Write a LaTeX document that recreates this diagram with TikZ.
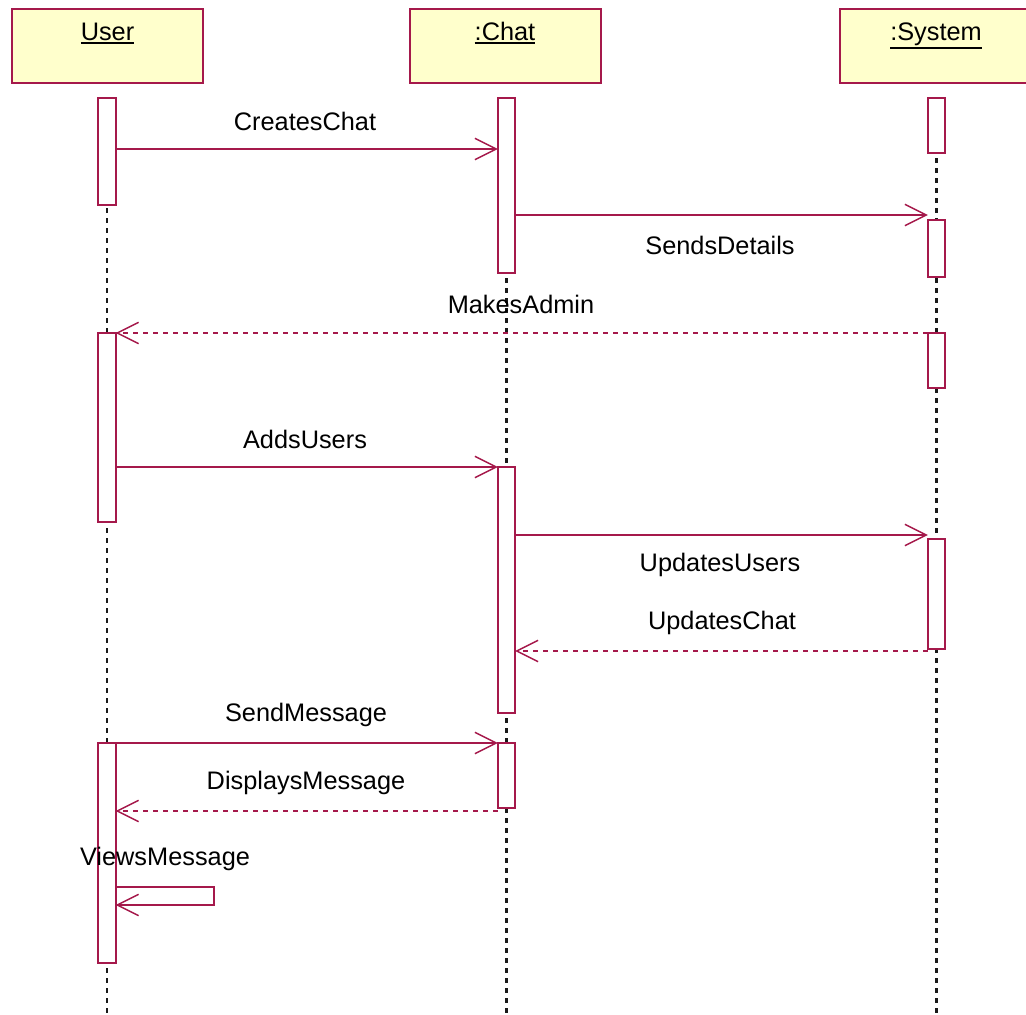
\documentclass[tikz,border=0pt]{standalone}
\usepackage{fontspec}
\setmainfont{Liberation Sans}
\usetikzlibrary{arrows.meta}
\definecolor{umlred}{RGB}{165,25,75}
\definecolor{umlfill}{RGB}{255,255,204}
\newcommand\ulname[1]{\leavevmode\vtop{\hbox{#1}\kern1.4pt\hrule height1.3pt}}
\begin{document}
\begin{tikzpicture}[x=0.75pt,y=-0.75pt,
  every node/.style={font=\fontsize{19}{22}\selectfont, inner sep=0pt, outer sep=0pt},
  header/.style={draw=umlred, fill=umlfill, line width=1.5pt,
    minimum width=143.25pt, minimum height=55.5pt},
  actbar/.style={draw=umlred, fill=white, line width=1.5pt, minimum width=13pt},
  lifeline/.style={black!90, line width=1.6pt, dash pattern=on 3.5pt off 4pt},
  msg/.style={umlred, line width=1.5pt,
    -{Straight Barb[length=16pt,width=16pt,line width=1.1pt]}},
  reply/.style={msg, dash pattern=on 3.75pt off 3.75pt},
  lbl/.style={text=black}
]
\useasboundingbox (0,0) rectangle (1026,1015);
\clip (0,0) rectangle (1026,1015);

% object headers
\node[header] (user) at (107.5,46) {};
\node[header] (chat) at (505,46) {};
\node[header] (sys)  at (935,46) {};
\node[lbl, anchor=base] (userlbl) at (107.5,40) {\ulname{User}};
\node[lbl, anchor=base] (chatlbl) at (505,40) {\ulname{:Chat}};
\node[lbl, anchor=base] (syslbl)  at (936,40) {\ulname{:System}};

% lifelines
\coordinate (uend) at (107,1015);
\coordinate (cend) at (506.5,1015);
\coordinate (send) at (936.5,1015);
\draw[lifeline] (107,98) -- (uend);
\draw[lifeline] (506.5,98) -- (cend);
\draw[lifeline] (936.5,98) -- (send);

% activation bars
\node[actbar, minimum height=80.25pt]  (u1) at (107,151.5) {};
\node[actbar, minimum height=141.75pt] (u2) at (107,427.5) {};
\node[actbar, minimum height=165pt]    (u3) at (107,853) {};
\node[actbar, minimum height=131.25pt] (c1) at (506.5,185.5) {};
\node[actbar, minimum height=184.5pt]  (c2) at (506.5,590) {};
\node[actbar, minimum height=48.75pt]  (c3) at (506.5,775.5) {};
\node[actbar, minimum height=41.25pt]  (s1) at (936.5,125.5) {};
\node[actbar, minimum height=42.75pt]  (s2) at (936.5,248.5) {};
\node[actbar, minimum height=41.25pt]  (s3) at (936.5,360.5) {};
\node[actbar, minimum height=82.5pt]   (s4) at (936.5,594) {};

% messages
\draw[msg]   (u1.east |- 0,149) -- (c1.west |- 0,149);
\draw[msg]   (c1.east |- 0,215) -- (s2.west |- 0,215);
\draw[reply] (s3.west |- 0,333) -- (u2.east |- 0,333);
\draw[msg]   (u2.east |- 0,467) -- (c2.west |- 0,467);
\draw[msg]   (c2.east |- 0,535) -- (s4.west |- 0,535);
\draw[reply] (s4.west |- 0,651) -- (c2.east |- 0,651);
\draw[msg]   (u3.east |- 0,743) -- (c3.west |- 0,743);
\draw[reply] (c3.west |- 0,811) -- (u3.east |- 0,811);
\draw[msg]   (u3.east |- 0,887) -- ++(98,0) -- ++(0,18) -- (u3.east |- 0,905);

% message labels
\node[lbl] (m1) at (305,121) {CreatesChat};
\node[lbl] (m2) at (720,245) {SendsDetails};
\node[lbl] (m3) at (521,304) {MakesAdmin};
\node[lbl] (m4) at (305,439) {AddsUsers};
\node[lbl] (m5) at (720,565) {UpdatesUsers};
\node[lbl] (m6) at (722,623) {UpdatesChat};
\node[lbl] (m7) at (306,715) {SendMessage};
\node[lbl] (m8) at (306,783) {DisplaysMessage};
\node[lbl] (m9) at (165,859) {ViewsMessage};
\end{tikzpicture}
\end{document}
